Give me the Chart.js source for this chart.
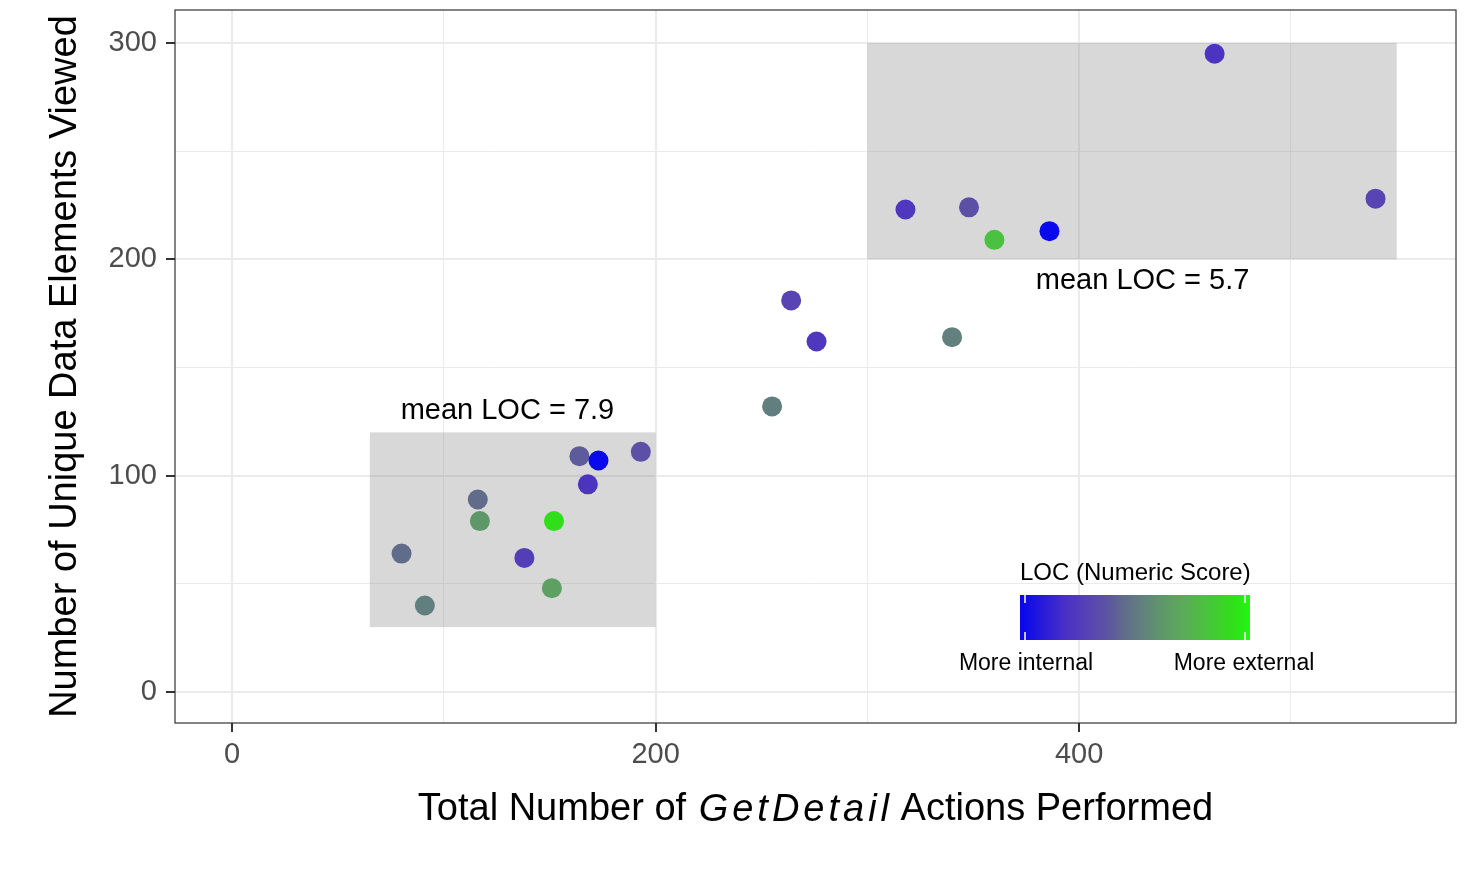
<!DOCTYPE html>
<html>
<head>
<meta charset="utf-8">
<title>GetDetail actions vs unique data elements</title>
<script src="https://cdn.jsdelivr.net/npm/chart.js@4.4.1/dist/chart.umd.min.js"></script>
<style>
    html, body { margin: 0; padding: 0; background: #ffffff; }
    #wrap { width: 1466px; height: 884px; }
</style>
</head>
<body>
<div id="wrap"><canvas id="locChart" width="1466" height="884"></canvas></div>
<script>
// --- data ---
const getDetailActions = [464, 540, 318, 348, 360, 386, 264, 276, 340, 255, 164, 173, 193, 168, 116, 117, 152, 80, 138, 151, 91];
const uniqueElements   = [295, 228, 223, 224, 209, 213, 181, 162, 164, 132, 109, 107, 111, 96, 89, 79, 79, 64, 62, 48, 40];
const locScores        = [4.0, 5.4, 4.3, 6.5, 14.4, 0.2, 5.4, 4.3, 9.5, 9.4, 7.2, 0.2, 6.5, 4.0, 8.1, 11.2, 16.7, 8.1, 4.9, 11.9, 9.4];
const locRange = [0, 18];

// shaded regions [xmin, xmax, ymin, ymax] and their labels [x, y, text]
const regions = [[300, 550, 200, 300], [65, 200, 30, 120]];
const regionLabels = [[430, 190, 'mean LOC = 5.7'], [130, 130, 'mean LOC = 7.9']];

// grid positions; labelled (major) ones listed separately
const xGrid = [0, 100, 200, 300, 400, 500];
const yGrid = [0, 50, 100, 150, 200, 250, 300];
const xTicks = [0, 200, 400];
const yTicks = [0, 100, 200, 300];
const xLimits = [-27, 578];
const yLimits = [-14.3, 315.2];

const legendTitle = 'LOC (Numeric Score)';
const legendLabels = ['More internal', 'More external'];

// colour ramp, position 0..1
const rampStops = [
    [0.00, [6, 6, 238]],
    [0.20, [74, 48, 196]],
    [0.30, [88, 68, 178]],
    [0.38, [92, 84, 162]],
    [0.45, [96, 108, 138]],
    [0.52, [98, 126, 128]],
    [0.62, [94, 152, 104]],
    [0.70, [92, 168, 90]],
    [0.80, [76, 192, 64]],
    [0.93, [48, 224, 24]],
    [1.00, [32, 248, 16]]
];

const FONT = "'Liberation Sans', Arial, Helvetica, sans-serif";

function rampColor(t) {
    t = Math.max(0, Math.min(1, t));
    for (let i = 1; i < rampStops.length; i++) {
        const [t1, c1] = rampStops[i];
        if (t <= t1) {
            const [t0, c0] = rampStops[i - 1];
            const f = (t - t0) / (t1 - t0);
            const c = c0.map((v, k) => Math.round(v + (c1[k] - v) * f));
            return `rgb(${c[0]}, ${c[1]}, ${c[2]})`;
        }
    }
    const last = rampStops[rampStops.length - 1][1];
    return `rgb(${last[0]}, ${last[1]}, ${last[2]})`;
}

function locColor(score) {
    return rampColor((score - locRange[0]) / (locRange[1] - locRange[0]));
}

// shaded boxes go under the points, everything else on top
const decorations = {
    id: 'decorations',
    beforeDatasetsDraw(chart) {
        const { ctx, scales: { x, y } } = chart;
        ctx.save();
        ctx.fillStyle = 'rgba(127, 127, 127, 0.3)';
        regions.forEach(([x0, x1, y0, y1]) => {
            const px0 = x.getPixelForValue(x0);
            const px1 = x.getPixelForValue(x1);
            const py0 = y.getPixelForValue(y1);
            const py1 = y.getPixelForValue(y0);
            ctx.fillRect(px0, py0, px1 - px0, py1 - py0);
        });
        ctx.restore();
    },
    afterDatasetsDraw(chart) {
        const { ctx, chartArea: area, scales: { x, y } } = chart;
        ctx.save();

        // panel border
        ctx.strokeStyle = '#333333';
        ctx.lineWidth = 1.2;
        ctx.strokeRect(area.left, area.top, area.right - area.left, area.bottom - area.top);

        // region labels
        ctx.fillStyle = '#000000';
        ctx.font = `29px ${FONT}`;
        ctx.textAlign = 'center';
        ctx.textBaseline = 'middle';
        regionLabels.forEach(([lx, ly, text]) => {
            ctx.fillText(text, x.getPixelForValue(lx), y.getPixelForValue(ly));
        });

        this.drawLegend(ctx, area);
        this.drawTitles(ctx, area);
        ctx.restore();
    },
    drawLegend(ctx, area) {
        const left = area.right - 436;
        const top = area.bottom - 128;
        const w = 230, h = 45;

        ctx.fillStyle = '#000000';
        ctx.font = `24px ${FONT}`;
        ctx.textAlign = 'left';
        ctx.textBaseline = 'alphabetic';
        ctx.fillText(legendTitle, left, top - 15);

        const grad = ctx.createLinearGradient(left, 0, left + w, 0);
        for (let i = 0; i <= 40; i++) grad.addColorStop(i / 40, rampColor(i / 40));
        ctx.fillStyle = grad;
        ctx.fillRect(left, top, w, h);

        // break ticks
        ctx.strokeStyle = '#ffffff';
        ctx.lineWidth = 1.5;
        [left + 5, left + w - 5].forEach(tx => {
            ctx.beginPath();
            ctx.moveTo(tx, top); ctx.lineTo(tx, top + 8);
            ctx.moveTo(tx, top + h - 8); ctx.lineTo(tx, top + h);
            ctx.stroke();
        });

        ctx.fillStyle = '#000000';
        ctx.font = `23px ${FONT}`;
        ctx.textAlign = 'center';
        ctx.fillText(legendLabels[0], left + 6, top + h + 30);
        ctx.fillText(legendLabels[1], left + w - 6, top + h + 30);
    },
    drawTitles(ctx, area) {
        const cx = (area.left + area.right) / 2;
        const cy = (area.top + area.bottom) / 2;
        const size = 38;
        ctx.fillStyle = '#000000';
        ctx.textBaseline = 'middle';

        // y title
        ctx.save();
        ctx.translate(66, cy);
        ctx.rotate(-Math.PI / 2);
        ctx.textAlign = 'center';
        ctx.font = `${size}px ${FONT}`;
        ctx.fillText('Number of Unique Data Elements Viewed', 0, 0);
        ctx.restore();

        // x title, with the italic spaced-out action name
        const before = 'Total Number of ';
        const action = 'GetDetail';
        const after = ' Actions Performed';
        const spacing = 4;
        ctx.font = `${size}px ${FONT}`;
        const wBefore = ctx.measureText(before).width;
        const wAfter = ctx.measureText(after).width;
        ctx.font = `italic ${size}px ${FONT}`;
        let wAction = 0;
        for (const ch of action) wAction += ctx.measureText(ch).width;
        wAction += spacing * (action.length - 1) + 3;

        let px = cx - (wBefore + wAction + wAfter) / 2;
        const py = 810;
        ctx.textAlign = 'left';
        ctx.font = `${size}px ${FONT}`;
        ctx.fillText(before, px, py);
        px += wBefore + 2;
        ctx.font = `italic ${size}px ${FONT}`;
        for (const ch of action) {
            ctx.fillText(ch, px, py);
            px += ctx.measureText(ch).width + spacing;
        }
        px += 1 - spacing;
        ctx.font = `${size}px ${FONT}`;
        ctx.fillText(after, px, py);
    }
};

function gridFor(majorTicks) {
    const isMajor = c => c.tick && majorTicks.includes(c.tick.value);
    return {
        color: '#ebebeb',
        lineWidth: c => isMajor(c) ? 2 : 1,
        drawTicks: true,
        tickLength: 9,
        tickWidth: 2,
        tickColor: c => isMajor(c) ? '#333333' : 'rgba(0,0,0,0)'
    };
}

Chart.defaults.font.family = FONT;

new Chart(document.getElementById('locChart'), {
    type: 'scatter',
    data: {
        datasets: [{
            data: getDetailActions.map((v, i) => ({ x: v, y: uniqueElements[i] })),
            pointBackgroundColor: locScores.map(locColor),
            pointBorderWidth: 0,
            pointRadius: 10,
            pointHoverRadius: 10
        }]
    },
    options: {
        responsive: false,
        animation: false,
        devicePixelRatio: 1,
        layout: { padding: { top: 6, right: 9, left: 0, bottom: 0 } },
        plugins: {
            legend: { display: false },
            tooltip: { enabled: false }
        },
        scales: {
            x: {
                type: 'linear',
                min: xLimits[0],
                max: xLimits[1],
                border: { display: false },
                grid: gridFor(xTicks),
                afterBuildTicks: scale => { scale.ticks = xGrid.map(v => ({ value: v })); },
                ticks: {
                    maxRotation: 0,
                    autoSkip: false,
                    padding: 6,
                    color: '#4d4d4d',
                    font: { size: 29 },
                    callback: v => xTicks.includes(v) ? String(v) : ''
                },
                afterFit: scale => {
                    scale.height = 161;
                    scale.paddingLeft = 0;
                    scale.paddingRight = 0;
                }
            },
            y: {
                type: 'linear',
                min: yLimits[0],
                max: yLimits[1],
                border: { display: false },
                grid: gridFor(yTicks),
                afterBuildTicks: scale => { scale.ticks = yGrid.map(v => ({ value: v })); },
                ticks: {
                    autoSkip: false,
                    padding: 9,
                    color: '#4d4d4d',
                    font: { size: 29 },
                    callback: v => yTicks.includes(v) ? String(v) : ''
                },
                afterFit: scale => {
                    scale.width = 175;
                    scale.paddingTop = 0;
                    scale.paddingBottom = 0;
                }
            }
        }
    },
    plugins: [decorations]
});
</script>
</body>
</html>
